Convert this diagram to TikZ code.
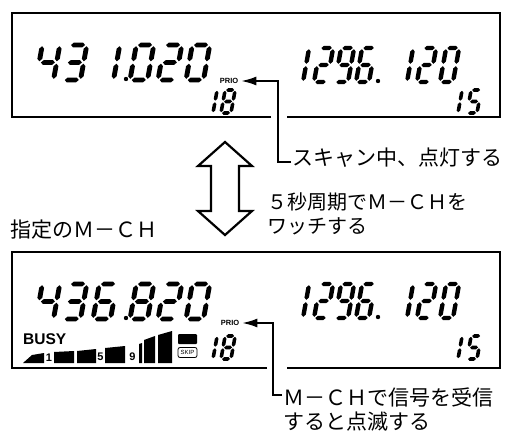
\documentclass[tikz,border=0pt]{standalone}
\usepackage{fontspec}
\newfontfamily\jpfont{Noto Sans CJK JP}
\newfontfamily\lcdfont{Liberation Sans}
\usetikzlibrary{arrows.meta}

% seven segment parts, unit cell 1 x 2, half thickness \lcdtx / \lcdty
\newcommand\lcdh[1]{\fill (0.1,#1) -- ({0.1+\lcdtx},{#1+\lcdty}) -- ({0.9-\lcdtx},{#1+\lcdty})
    -- (0.9,#1) -- ({0.9-\lcdtx},{#1-\lcdty}) -- ({0.1+\lcdtx},{#1-\lcdty}) -- cycle;}
\newcommand\lcdv[2]{\fill (#1,{#2+0.07}) -- ({#1+\lcdtx},{#2+0.07+\lcdty}) -- ({#1+\lcdtx},{#2+0.93-\lcdty})
    -- (#1,{#2+0.93}) -- ({#1-\lcdtx},{#2+0.93-\lcdty}) -- ({#1-\lcdtx},{#2+0.07+\lcdty}) -- cycle;}
\newcommand\lcdsega{\lcdh{2}}
\newcommand\lcdsegb{\lcdv{1}{1}}
\newcommand\lcdsegc{\lcdv{1}{0}}
\newcommand\lcdsegd{\lcdh{0}}
\newcommand\lcdsege{\lcdv{0}{0}}
\newcommand\lcdsegf{\lcdv{0}{1}}
\newcommand\lcdsegg{\lcdh{1}}
\newcommand\lcddigit[1]{\edef\lcdlist{#1}\foreach \s in \lcdlist {\csname lcdseg\s\endcsname}}

% digits
\newcommand\lcdzero{a,b,c,d,e,f}
\newcommand\lcdone{b,c}
\newcommand\lcdtwo{a,b,g,e,d}
\newcommand\lcdthree{a,b,g,c,d}
\newcommand\lcdfour{f,g,b,c}
\newcommand\lcdfive{a,f,g,c,d}
\newcommand\lcdsix{a,f,g,e,d,c}
\newcommand\lcdeight{a,b,c,d,e,f,g}
\newcommand\lcdnine{a,b,c,d,f,g}

\tikzset{
  big digit/.pic={\def\lcdtx{0.14}\def\lcdty{0.14}%
    \begin{scope}[xslant=0.18, x=17.5pt, y=17.5pt]\lcddigit{#1}\end{scope}},
  mid digit/.pic={\def\lcdtx{0.17}\def\lcdty{0.13}%
    \begin{scope}[xslant=0.18, x=13pt, y=17pt]\lcddigit{#1}\end{scope}},
  small digit/.pic={\def\lcdtx{0.18}\def\lcdty{0.155}%
    \begin{scope}[xslant=0.18, x=10pt, y=11.5pt]\lcddigit{#1}\end{scope}},
}

\begin{document}
\begin{tikzpicture}[x=1pt, y=-1pt,
    lcdframe/.style={line width=1.7pt},
    prio/.style={font=\lcdfont\bfseries\fontsize{7.5}{8}\selectfont, inner sep=0pt, inner xsep=3pt},
    prioline/.style={line width=1.6pt, -{Latex[length=15pt, width=9pt]}},
    note/.style={font=\jpfont\fontsize{21}{24}\selectfont, inner sep=1pt, align=left, anchor=west},
    swaparrow/.style={line width=2.2pt, fill=white},
    meterlabel/.style={font=\lcdfont\bfseries\fontsize{11}{11}\selectfont, inner sep=0pt}]

    \useasboundingbox (0,0) rectangle (508,439);

    % ---- Upper display (scanning) ----
    \draw[lcdframe] (271,117) -- (12,117) -- (12,13) -- (500,13) -- (500,117) -- (287,117);

    \foreach \px/\dg in {36/\lcdfour, 63/\lcdthree, 96/\lcdone, 130/\lcdzero, 158/\lcdtwo, 186/\lcdzero}
        \pic at (\px,80) {big digit=\dg};
    \fill (126,79) circle[radius=2.2];

    \foreach \px/\dg in {290/\lcdone, 314/\lcdtwo, 335/\lcdnine, 356/\lcdsix, 394/\lcdone, 417/\lcdtwo, 440/\lcdzero}
        \pic at (\px,82) {mid digit=\dg};
    \fill (378,81) circle[radius=2.2];

    \foreach \px/\dg in {203/\lcdone, 221/\lcdeight, 448/\lcdone, 467/\lcdfive}
        \pic at (\px,113) {small digit=\dg};

    \node[prio] (prio1) at (229,81) {PRIO};

    % ---- Lower display (priority channel) ----
    \draw[lcdframe] (267,368) -- (12,368) -- (12,252) -- (500,252) -- (500,368) -- (287,368);

    \foreach \px/\dg in {36/\lcdfour, 63/\lcdthree, 93/\lcdsix, 130/\lcdeight, 158/\lcdtwo, 186/\lcdzero}
        \pic at (\px,319) {big digit=\dg};
    \fill (126,318) circle[radius=2.2];

    \foreach \px/\dg in {290/\lcdone, 314/\lcdtwo, 335/\lcdnine, 356/\lcdsix, 394/\lcdone, 417/\lcdtwo, 440/\lcdzero}
        \pic at (\px,318) {mid digit=\dg};
    \fill (378,317) circle[radius=2.2];

    \foreach \px/\dg in {203/\lcdone, 221/\lcdeight, 448/\lcdone, 467/\lcdfive}
        \pic at (\px,359) {small digit=\dg};

    \node[prio] (prio2) at (230,323) {PRIO};

    % BUSY and S-meter
    \node[font=\lcdfont\bfseries\fontsize{15.5}{15.5}\selectfont, inner sep=0pt, anchor=base west] (busy) at (23,344) {BUSY};
    \fill (23,363) -- (32,355) -- (44,353) -- (44,363) -- cycle;
    \fill (54,363) -- (54,352) -- (74,351) -- (74,363) -- cycle;
    \fill (77,363) -- (77,351) -- (96,349) -- (96,363) -- cycle;
    \fill (105,363) -- (105,348) -- (125,346) -- (125,363) -- cycle;
    \fill (139,363) -- (139,344) -- (142,343) -- (142,363) -- cycle;
    \fill (144,363) -- (144,340) -- (155,336) -- (155,363) -- cycle;
    \fill (158,363) -- (158,335) -- (172,331) -- (172,363) -- cycle;
    \node[meterlabel] (m1) at (49,358) {1};
    \node[meterlabel] (m5) at (100.5,357) {5};
    \node[meterlabel] (m9) at (132.5,357) {9};

    % SKIP indicator
    \fill[rounded corners=1pt] (178,334) rectangle (197,344);
    \node[draw, rounded corners=2pt, line width=0.8pt, font=\lcdfont\fontsize{6}{6}\selectfont,
        inner sep=1pt, minimum width=19pt, minimum height=10pt] (skip) at (187.5,352.5) {SKIP};

    % Swap arrow between displays
    \draw[swaparrow] (225,142) -- (252,166) -- (239,166) -- (239,211) -- (252,211) -- (225,235)
        -- (198,211) -- (211,211) -- (211,166) -- (198,166) -- cycle;

    % Notes
    \node[note] (scan) at (291,158) {スキャン中、点灯する};
    \node[note, font=\jpfont\fontsize{20}{24}\selectfont] (watch) at (266,214) {５秒周期でＭ－ＣＨを\\ワッチする};
    \node[note] (chan) at (9,230) {指定のＭ－ＣＨ};
    \node[note] (recv) at (282,409) {Ｍ－ＣＨで信号を受信\\すると点滅する};

    % Leaders to PRIO
    \coordinate (bend1) at (278,162);
    \draw[prioline] (bend1 -| scan.west) -- (bend1) |- (prio1.east);
    \coordinate (bend2) at (273,395);
    \draw[prioline] (bend2 -| recv.west) -- (bend2) |- (prio2.east);

\end{tikzpicture}
\end{document}
